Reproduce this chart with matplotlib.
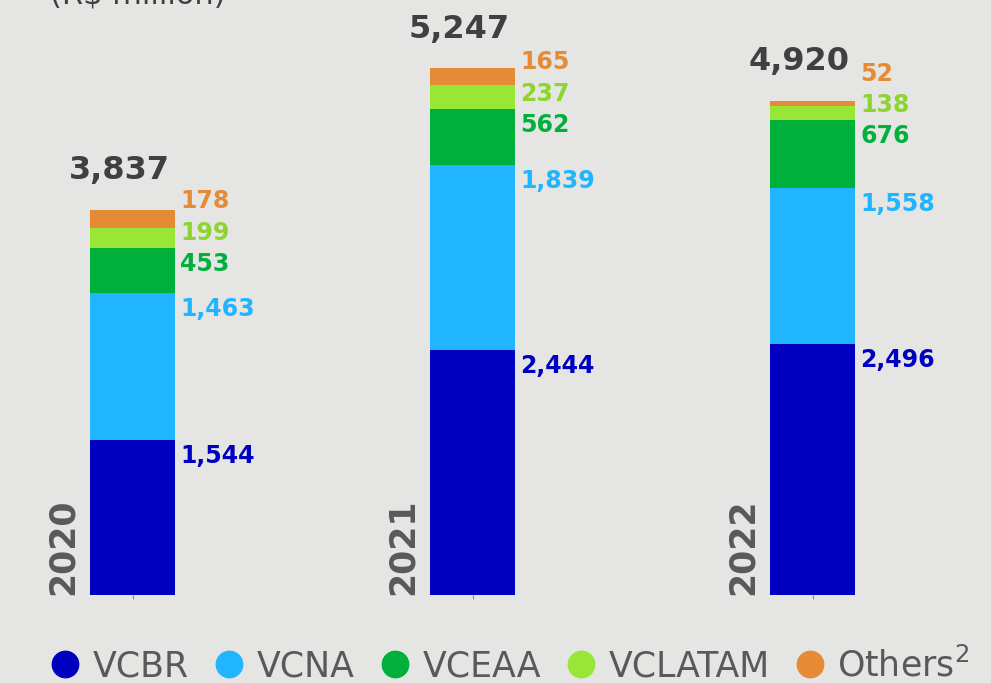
import matplotlib.pyplot as plt
import numpy as np
from matplotlib.lines import Line2D

years = ["2020", "2021", "2022"]
segments = ["VCBR", "VCNA", "VCEAA", "VCLATAM", "Others"]
values = {
    "VCBR": [1544, 2444, 2496],
    "VCNA": [1463, 1839, 1558],
    "VCEAA": [453, 562, 676],
    "VCLATAM": [199, 237, 138],
    "Others": [178, 165, 52],
}
totals = [3837, 5247, 4920]
legend_labels = ["VCBR", "VCNA", "VCEAA", "VCLATAM", "Others$^{2}$"]
unit_title = "(R$ million)"

bar_colors = {
    "VCBR": "#0000c0",
    "VCNA": "#22b5ff",
    "VCEAA": "#00b03b",
    "VCLATAM": "#98e635",
    "Others": "#e58a35",
}
text_colors = {
    "VCBR": "#0000c0",
    "VCNA": "#22b5ff",
    "VCEAA": "#00b03b",
    "VCLATAM": "#8ed42e",
    "Others": "#e58a35",
}
bg = "#e5e5e3"

fig = plt.figure(figsize=(9.91, 6.83), dpi=100, facecolor=bg)
ax = fig.add_axes([0, 88 / 683, 1, 595 / 683])
ax.set_facecolor(bg)

x = np.arange(len(years))
bottom = np.zeros(len(years))
label_y = [[] for _ in years]
for seg in segments:
    vals = np.array(values[seg])
    ax.bar(x, vals, bottom=bottom, width=0.25, color=bar_colors[seg], zorder=2)
    bottom = bottom + vals
    for i in range(len(years)):
        y = bottom[i] - 160
        if label_y[i]:
            y = max(y, label_y[i][-1] + 310)
        label_y[i].append(y)
        ax.text(x[i] + 0.14, y, f"{vals[i]:,}", color=text_colors[seg],
                fontsize=17, fontweight="bold", ha="left", va="center")

for i in range(len(years)):
    ax.text(x[i] - 0.04, totals[i] + 390, f"{totals[i]:,}", color="#404040",
            fontsize=23, fontweight="bold", ha="center", va="center")
    ax.text(x[i] - 0.206, 0, years[i], color="#595959", fontsize=25,
            fontweight="bold", rotation=90, ha="center", va="bottom")

ax.set_xlim(-132.5 / 340, (991 - 132.5) / 340)
ax.set_ylim(0, 595 / 0.1004)
for s in ax.spines.values():
    s.set_visible(False)
ax.set_xticks(x)
ax.set_xticklabels([])
ax.set_yticks([])
ax.tick_params(axis="x", length=3, color="#888888", width=0.8)

fig.text(50 / 991, 1 - 3 / 683, unit_title, color="#404040", fontsize=22,
         ha="left", va="baseline")

handles = [Line2D([], [], marker="o", linestyle="", markersize=19,
                  markerfacecolor=bar_colors[s], markeredgecolor=bar_colors[s])
           for s in segments]
leg = fig.legend(handles, legend_labels, loc="center", ncol=5, frameon=False,
                 bbox_to_anchor=(507 / 991, 1 - 665 / 683), fontsize=25,
                 handletextpad=0.2, columnspacing=0.55, handlelength=1.2)
for t in leg.get_texts():
    t.set_color("#595959")

fig.savefig("out.png", dpi=100, facecolor=bg)
